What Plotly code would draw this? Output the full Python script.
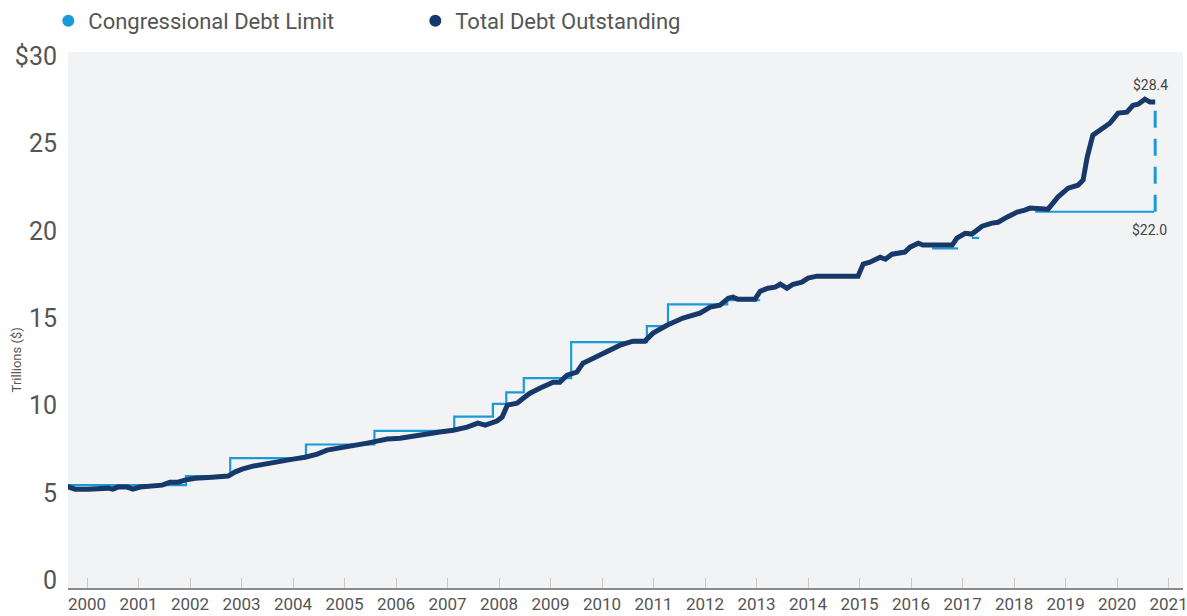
import plotly.graph_objects as go

# ---- data (decimal years, trillions of $) ----
debt_x = [1999.60, 1999.67, 1999.77, 2000.02, 2000.21, 2000.41, 2000.50, 2000.60, 2000.78, 2000.89,
          2001.03, 2001.32, 2001.46, 2001.61, 2001.77, 2001.90, 2002.10, 2002.43, 2002.74, 2002.87,
          2003.01, 2003.22, 2003.50, 2003.75, 2004.00, 2004.23, 2004.47, 2004.66, 2004.91, 2005.17,
          2005.44, 2005.63, 2005.83, 2006.08, 2006.33, 2006.60, 2006.85, 2007.11, 2007.38, 2007.59,
          2007.73, 2007.96, 2008.06, 2008.16, 2008.35, 2008.47, 2008.60, 2008.80, 2009.05, 2009.18,
          2009.32, 2009.51, 2009.63, 2009.83, 2010.10, 2010.35, 2010.60, 2010.83, 2010.99, 2011.26,
          2011.57, 2011.90, 2012.10, 2012.29, 2012.45, 2012.54, 2012.64, 2012.97, 2013.07, 2013.22,
          2013.36, 2013.46, 2013.59, 2013.71, 2013.88, 2014.00, 2014.17, 2014.97, 2015.07, 2015.20,
          2015.40, 2015.50, 2015.63, 2015.88, 2015.98, 2016.14, 2016.23, 2016.80, 2016.89, 2017.05,
          2017.18, 2017.38, 2017.57, 2017.69, 2017.86, 2018.06, 2018.21, 2018.31, 2018.66, 2018.85,
          2019.05, 2019.24, 2019.34, 2019.42, 2019.53, 2019.67, 2019.86, 2020.02, 2020.19, 2020.31,
          2020.41, 2020.54, 2020.64, 2020.74]
debt_v = [5.38, 5.33, 5.21, 5.21, 5.27, 5.27, 5.21, 5.33, 5.33, 5.21,
          5.33, 5.38, 5.44, 5.61, 5.61, 5.73, 5.84, 5.90, 5.96, 6.19,
          6.36, 6.53, 6.70, 6.82, 6.93, 7.04, 7.22, 7.45, 7.56, 7.67,
          7.85, 7.96, 8.08, 8.13, 8.25, 8.42, 8.48, 8.59, 8.76, 8.99,
          8.88, 9.11, 9.34, 10.02, 10.14, 10.42, 10.71, 11.00, 11.34, 11.34,
          11.74, 11.91, 12.43, 12.71, 13.06, 13.46, 13.69, 13.69, 14.15, 14.60,
          15.01, 15.29, 15.64, 15.75, 16.15, 16.21, 16.09, 16.09, 16.55, 16.72,
          16.78, 16.95, 16.72, 16.95, 17.07, 17.30, 17.41, 17.41, 18.10, 18.21,
          18.50, 18.38, 18.67, 18.79, 19.07, 19.30, 19.19, 19.19, 19.59, 19.87,
          19.82, 20.27, 20.45, 20.50, 20.79, 21.08, 21.19, 21.31, 21.25, 21.94,
          22.45, 22.62, 22.91, 24.23, 25.49, 25.77, 26.17, 26.75, 26.80, 27.20,
          27.26, 27.55, 27.38, 27.38]

limit_x = [1999.60, 2001.92, 2002.78, 2004.25, 2005.58, 2007.13, 2007.88, 2008.14, 2008.48, 2009.40,
           2010.87, 2011.28, 2012.43, 2013.07, 2013.08, 2016.41, 2016.91, 2016.92, 2017.18, 2017.32,
           2017.33, 2018.41, 2020.72]
limit_v = [5.44, 5.96, 6.99, 7.77, 8.55, 9.37, 10.10, 10.75, 11.57, 13.63,
           14.55, 15.80, 16.03, 16.03, None, 19.00, 19.00, None, 19.60, 19.60,
           None, 21.10, 21.10]

gap_x = [2020.74, 2020.74]
gap_v = [21.10, 27.38]

year_ticks = list(range(2000, 2022))
year_labels = [str(y) for y in year_ticks]
y_ticks = [0, 5, 10, 15, 20, 25, 30]
y_labels = ["0", "5", "10", "15", "20", "25", "$30"]

end_labels = ["$28.4", "$22.0"]

LIGHT = "#1b9ad6"
DARK = "#17396a"
TXT = "#555555"
FONT = "Roboto, sans-serif"

fig = go.Figure()
fig.add_trace(go.Scatter(x=limit_x, y=limit_v, mode="lines", line=dict(color=LIGHT, width=2.2, shape="hv"),
                         connectgaps=False, showlegend=False, hoverinfo="skip"))
fig.add_trace(go.Scatter(x=gap_x, y=gap_v, mode="lines", line=dict(color=LIGHT, width=3, dash="17px,11px"),
                         showlegend=False, hoverinfo="skip"))
fig.add_trace(go.Scatter(x=debt_x, y=debt_v, mode="lines", line=dict(color=DARK, width=5),
                         showlegend=False))
# legend entries
fig.add_trace(go.Scatter(x=[None], y=[None], mode="markers", name="Congressional Debt Limit",
                         marker=dict(color=LIGHT, size=16, symbol="circle")))
fig.add_trace(go.Scatter(x=[None], y=[None], mode="markers", name="Total Debt Outstanding",
                         marker=dict(color=DARK, size=16, symbol="circle")))

fig.add_annotation(x=debt_x[-1], y=debt_v[-1], text=end_labels[0], showarrow=False,
                   yshift=17, xshift=-5, font=dict(family=FONT, size=14, color="#444"))
fig.add_annotation(x=gap_x[0], y=gap_v[0], text=end_labels[1], showarrow=False,
                   yshift=-18, xshift=-6, font=dict(family=FONT, size=14, color="#444"))
fig.add_annotation(xref="paper", yref="paper", x=-0.055, y=0.425, text="Trillions ($)", textangle=-90,
                   showarrow=False, font=dict(family=FONT, size=13, color=TXT))

fig.update_layout(
    width=1187, height=616,
    margin=dict(l=68, r=4, t=52, b=28, autoexpand=False),
    paper_bgcolor="white", plot_bgcolor="#f2f3f5",
    showlegend=True,
    legend=dict(orientation="h", xref="container", yref="container", x=0.0407, y=0.966,
                xanchor="left", yanchor="middle", entrywidth=322,
                font=dict(family=FONT, size=22, color=TXT), itemsizing="constant"),
    xaxis=dict(range=[1999.63, 2021.28], tickvals=year_ticks, ticktext=year_labels,
               showgrid=False, zeroline=False, ticks="inside", ticklen=10, tickcolor="#c8c8c8",
               showline=True, linecolor="#8a8a8a", linewidth=1.5, ticklabeloverflow="allow",
               tickfont=dict(family=FONT, size=17, color=TXT)),
    yaxis=dict(range=[-0.45, 30.25], tickvals=y_ticks, ticktext=y_labels,
               showgrid=False, zeroline=False, ticks="", showline=False,
               ticklabelstandoff=10,
               tickfont=dict(family=FONT, size=25, color=TXT)),
)

fig.write_html("out.html", config={"displayModeBar": False},
               post_script="document.body.style.margin='0';document.body.style.overflow='hidden';")
